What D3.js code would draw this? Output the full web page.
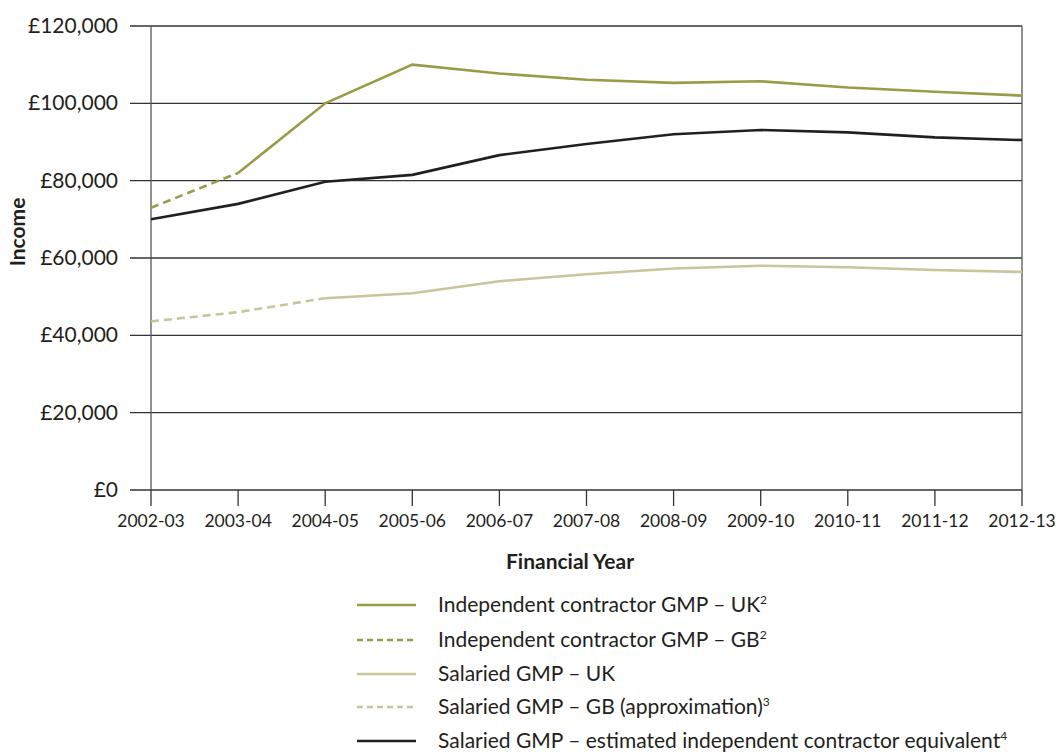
<!DOCTYPE html>
<html><head><meta charset="utf-8">
<script src="https://cdnjs.cloudflare.com/ajax/libs/d3/7.8.5/d3.min.js"></script>
<style>
body{margin:0;background:#fff;}
text{font-family:Lato,"Open Sans",sans-serif;fill:#231f20;}
</style></head>
<body><svg id="c" width="1059" height="754"></svg>
<script>
const years = ["2002-03","2003-04","2004-05","2005-06","2006-07","2007-08","2008-09","2009-10","2010-11","2011-12","2012-13"];
const icUK = [null,82000,100000,110000,107700,106100,105300,105700,104100,103000,102000];
const icGB = [73000,82000,null,null,null,null,null,null,null,null,null];
const salUK = [null,null,49600,50900,54000,55800,57300,58000,57600,56900,56400];
const salGB = [43600,46000,49600,null,null,null,null,null,null,null,null];
const salEq = [70000,74000,79700,81500,86600,89500,92000,93100,92500,91200,90500];
const yTicks = [0,20000,40000,60000,80000,100000,120000];
const seriesNames = ["Independent contractor GMP – UK","Independent contractor GMP – GB","Salaried GMP – UK","Salaried GMP – GB (approximation)","Salaried GMP – estimated independent contractor equivalent"];
const sups = ["2","2","","3","4"];

const olive="#9b9b47", khaki="#c9c59b", dark="#231f20";
const series = [
  {v:icUK, c:olive, d:null},
  {v:icGB, c:olive, d:"8,5"},
  {v:salUK, c:khaki, d:null},
  {v:salGB, c:khaki, d:"8,5"},
  {v:salEq, c:dark, d:null}
];

const svg=d3.select("#c");
const x=d3.scalePoint().domain(years).range([151,1022]);
const y=d3.scaleLinear().domain([0,120000]).range([490,26]);

svg.append("g").selectAll("line").data(yTicks).join("line")
  .attr("x1",130).attr("x2",1022).attr("y1",d=>y(d)).attr("y2",d=>y(d))
  .attr("stroke","#333").attr("stroke-width",1.3);
svg.append("g").selectAll("text").data(yTicks).join("text")
  .attr("x",118).attr("y",d=>y(d)+7).attr("text-anchor","end")
  .attr("font-size",21).text(d=>"£"+d3.format(",")(d));
[151,1022].forEach(xx=>svg.append("line").attr("x1",xx).attr("x2",xx).attr("y1",26).attr("y2",490).attr("stroke","#555").attr("stroke-width",1.3));
svg.append("g").selectAll("line").data(years).join("line")
  .attr("x1",d=>x(d)).attr("x2",d=>x(d)).attr("y1",490).attr("y2",506)
  .attr("stroke","#333").attr("stroke-width",1.3);
svg.append("g").selectAll("text").data(years).join("text")
  .attr("x",d=>x(d)).attr("y",527).attr("text-anchor","middle")
  .attr("font-size",17.5).text(d=>d);

svg.append("text").attr("x",570).attr("y",569).attr("text-anchor","middle")
  .attr("font-size",21).attr("font-weight","bold").text("Financial Year");
svg.append("text").attr("transform","translate(25,232) rotate(-90)").attr("text-anchor","middle")
  .attr("font-size",21).attr("font-weight","bold").text("Income");

const line=d3.line().defined(d=>d!=null).x((d,i)=>x(years[i])).y(d=>y(d));
series.forEach(s=>{
  svg.append("path").attr("d",line(s.v)).attr("fill","none")
    .attr("stroke",s.c).attr("stroke-width",2.6)
    .attr("stroke-dasharray",s.d);
});

const lg=svg.append("g");
const rowsY=[605,640,674,707,741];
series.forEach((s,i)=>{
  lg.append("line").attr("x1",357).attr("x2",416).attr("y1",rowsY[i]).attr("y2",rowsY[i])
    .attr("stroke",s.c).attr("stroke-width",2.6).attr("stroke-dasharray",s.d?"6,4":null);
  const t=lg.append("text").attr("x",438).attr("y",rowsY[i]+7).attr("font-size",21);
  t.append("tspan").text(seriesNames[i]);
  if(sups[i]) t.append("tspan").attr("font-size",12).attr("dy",-8).text(sups[i]);
});
</script></body></html>
